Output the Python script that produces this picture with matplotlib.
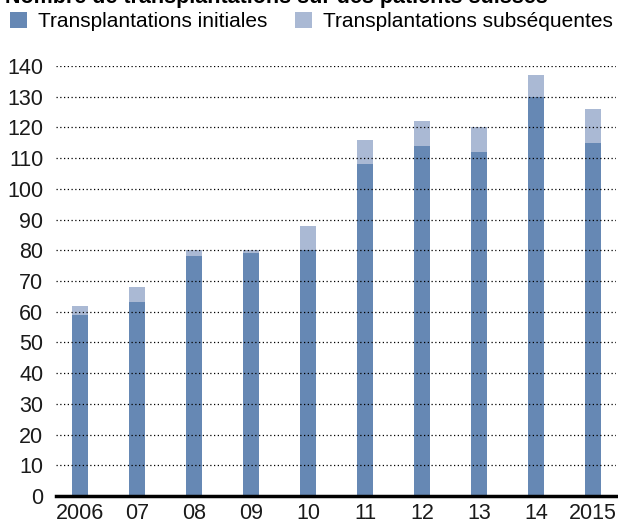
import numpy as np
import matplotlib.pyplot as plt

plt.rcParams['font.family'] = ['Liberation Sans', 'DejaVu Sans']

years = ['2006', '07', '08', '09', '10', '11', '12', '13', '14', '2015']
initiales = [59, 63, 78, 79, 80, 108, 114, 112, 130, 115]
subsequentes = [3, 5, 2, 1, 8, 8, 8, 8, 7, 11]

c_init = '#6688b4'
c_sub = '#aab9d4'

fig = plt.figure(figsize=(6.18, 5.27), dpi=100)
ax = fig.add_axes([0.0906, 0.0588, 0.906, 0.816])

x = np.arange(len(years))
w = 0.28
b1 = ax.bar(x, initiales, w, color=c_init, zorder=2,
            label='Transplantations initiales')
b2 = ax.bar(x, subsequentes, w, bottom=initiales, color=c_sub, zorder=2,
            label='Transplantations subséquentes')

# dotted grid drawn over the bars
for v in range(10, 150, 10):
    ax.axhline(v, color='black', lw=0.9, ls=(0, (1, 2)), zorder=3)

ax.set_xlim(-0.42, 9.4)
ax.set_ylim(0, 140)
ax.set_yticks(range(0, 150, 10))
ax.set_xticks(x)
ax.set_xticklabels(years)
ax.tick_params(length=0, labelsize=15.5, colors='#1a1a1a')
ax.tick_params(axis='y', pad=9)
ax.tick_params(axis='x', pad=5)
for s in ['top', 'right', 'left']:
    ax.spines[s].set_visible(False)
ax.spines['bottom'].set_linewidth(2.5)
ax.spines['bottom'].set_zorder(4)

fig.text(0.008, 1 - 3 / 527, 'Nombre de transplantations sur des patients suisses',
         fontsize=15.5, weight='bold', va='baseline', ha='left')

fig.legend(handles=[b1, b2], loc='upper left', bbox_to_anchor=(0.01, 0.985),
           ncol=2, frameon=False, fontsize=15, handlelength=0.8,
           handleheight=0.8, handletextpad=0.55, columnspacing=1.3,
           borderaxespad=0, borderpad=0.2)

fig.savefig('out.png', dpi=100)
